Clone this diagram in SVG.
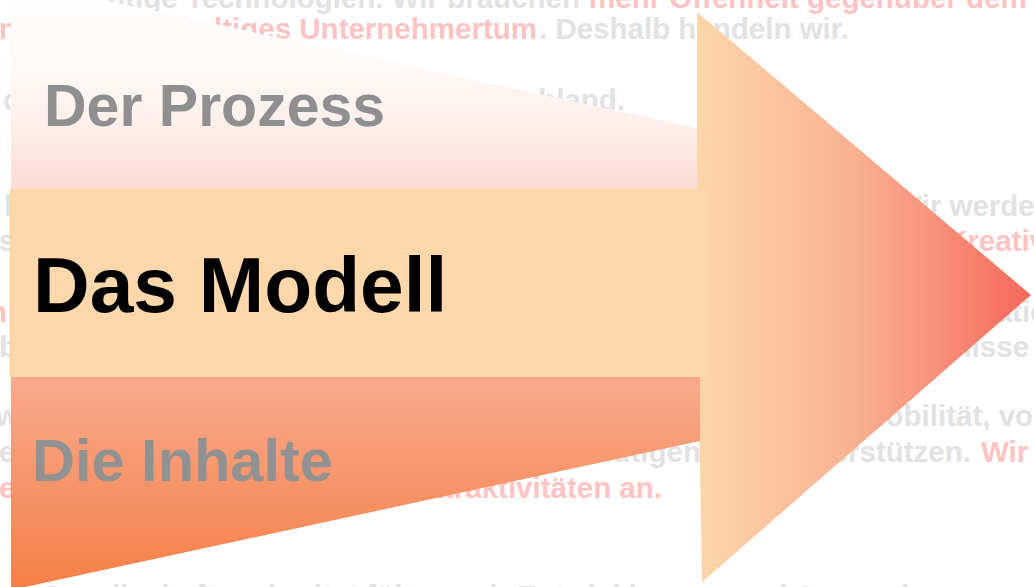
<svg xmlns="http://www.w3.org/2000/svg" width="1034" height="587" viewBox="0 0 1034 587">
<defs>
<linearGradient id="gTop" gradientUnits="userSpaceOnUse" x1="0" y1="-20" x2="0" y2="190">
<stop offset="0" stop-color="#ffffff"/>
<stop offset="0.4" stop-color="#fef9f7"/>
<stop offset="0.72" stop-color="#fdeee9"/>
<stop offset="1" stop-color="#fadbd1"/>
</linearGradient>
<linearGradient id="gBot" gradientUnits="userSpaceOnUse" x1="0" y1="377" x2="0" y2="590">
<stop offset="0" stop-color="#f8aa8e"/>
<stop offset="1" stop-color="#f57f45"/>
</linearGradient>
<linearGradient id="gHead" gradientUnits="userSpaceOnUse" x1="697" y1="0" x2="1031" y2="0">
<stop offset="0" stop-color="#fdd6a9"/>
<stop offset="0.45" stop-color="#f9b393"/>
<stop offset="0.72" stop-color="#f8907a"/>
<stop offset="1" stop-color="#f5675a"/>
</linearGradient>
</defs>
<style>
.bg{font-family:"Liberation Sans",Arial,sans-serif;font-weight:bold;font-size:29.5px}
.g{fill:#e2e2e2}
.p{fill:#ffc3c3}
.lbl{font-family:"Liberation Sans",Arial,sans-serif;font-weight:bold}
</style>
<rect width="1034" height="587" fill="#ffffff"/>
<g id="background-text" class="bg">
<text class="g" x="580" y="8" text-anchor="end">wichtige Technologien. Wir brauchen</text>
<text class="p" x="589" y="8">mehr Offenheit gegenüber dem</text>
<text class="p" x="-1" y="39">n</text>
<text class="p" x="537" y="39" text-anchor="end">nachhaltiges Unternehmertum</text>
<text class="g" x="539" y="39">. Deshalb handeln wir.</text>
<text class="g" x="3" y="110">c</text>
<text class="g" x="625" y="110" text-anchor="end">Deutschland.</text>
<text class="g" x="4" y="216">l</text>
<text class="g" x="894" y="216">Wir werden</text>
<text class="g" x="-1" y="251">s</text>
<text class="p" x="946" y="251">Kreativität</text>
<text class="p" x="-11" y="322">n</text>
<text class="g" x="917" y="322">Innovation</text>
<text class="g" x="-1" y="357">b</text>
<text class="g" x="870" y="357">Ergebnisse</text>
<text class="g" x="-4" y="426">w</text>
<text class="g" x="861" y="426">Mobilität, von</text>
<text class="g" x="-1" y="462">e</text>
<text class="g" x="701" y="462" text-anchor="end">ermutigen</text>
<text class="g" x="971" y="462" text-anchor="end">unterstützen.</text>
<text class="p" x="981" y="462">Wir</text>
<text class="p" x="-1" y="498">e</text>
<text class="p" x="662" y="498" text-anchor="end">Attraktivitäten an.</text>
<text class="g" x="40" y="606">Gesellschaft verbreitet führen wir Entwicklungen und Anwendungen</text>
</g>
<g id="arrowhead">
<polygon points="697,12 1031,295 702,582 697,300" fill="url(#gHead)"/>
</g>
<g id="node-prozess">
<polygon points="11,-20 697,128 697,190 11,190" fill="url(#gTop)"/>
<text class="lbl" x="44" y="126" font-size="59" fill="#8f8f8f">Der Prozess</text>
</g>
<g id="node-inhalte">
<polygon points="11,377 700,377 700,441 11,590" fill="url(#gBot)"/>
<text class="lbl" x="32" y="481" font-size="59.5" fill="#919191">Die Inhalte</text>
</g>
<g id="node-modell">
<rect x="9.5" y="189.5" width="697.5" height="187.5" fill="#fed7aa"/>
<text class="lbl" x="33" y="312" font-size="78.5" fill="#000000">Das Modell</text>
</g>
<g id="connectors"/>
</svg>
